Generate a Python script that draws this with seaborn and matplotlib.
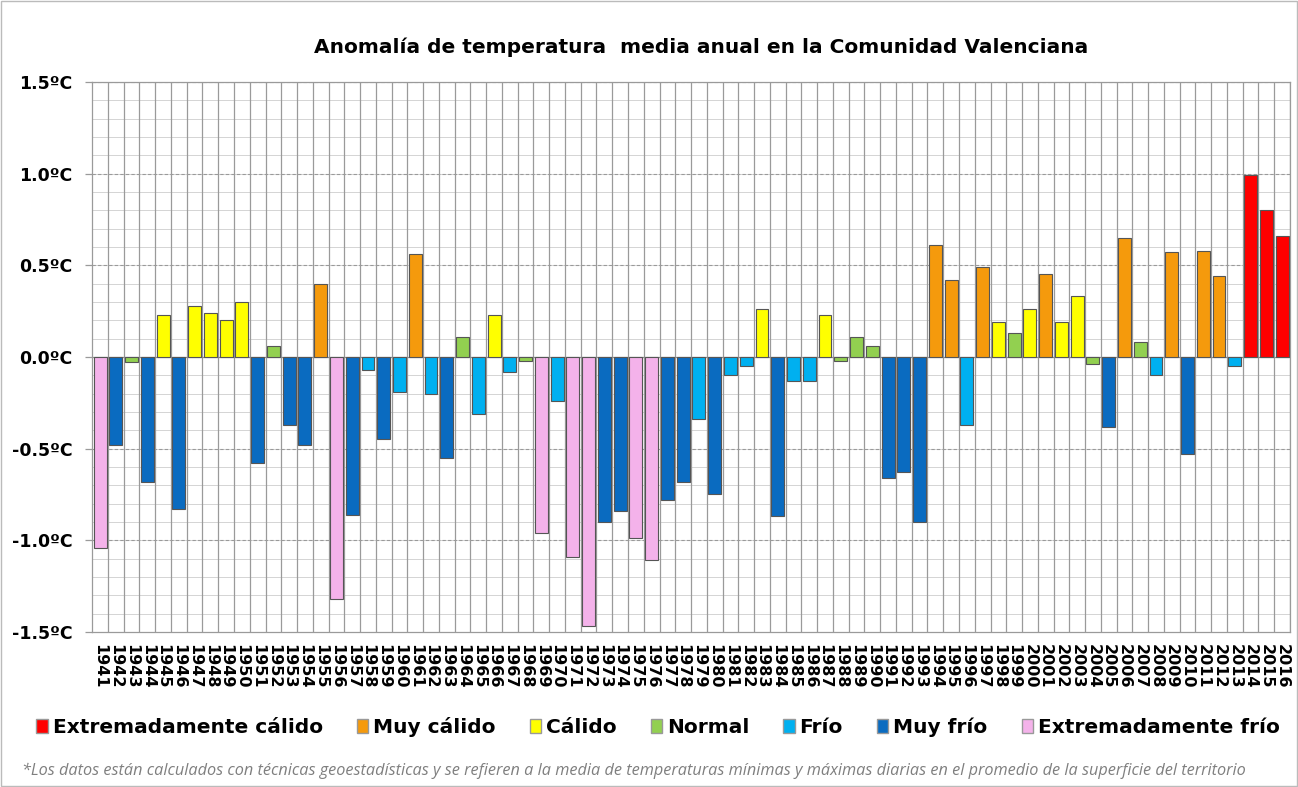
import matplotlib
matplotlib.use("Agg")
import matplotlib.pyplot as plt
from matplotlib.patches import Patch, Rectangle
import numpy as np
import pandas as pd
import seaborn as sns

# anomaly per year (ºC)
years = list(range(1941, 2017))
anomalies = [
    -1.04, -0.48, -0.03, -0.68, 0.23, -0.83, 0.28, 0.24, 0.20, 0.30,   # 1941-1950
    -0.58, 0.06, -0.37, -0.48, 0.40, -1.32, -0.86, -0.07, -0.45, -0.19,  # 1951-1960
    0.56, -0.20, -0.55, 0.11, -0.31, 0.23, -0.08, -0.02, -0.96, -0.24,  # 1961-1970
    -1.09, -1.47, -0.90, -0.84, -0.99, -1.11, -0.78, -0.68, -0.34, -0.75,  # 1971-1980
    -0.10, -0.05, 0.26, -0.87, -0.13, -0.13, 0.23, -0.02, 0.11, 0.06,   # 1981-1990
    -0.66, -0.63, -0.90, 0.61, 0.42, -0.37, 0.49, 0.19, 0.13, 0.26,    # 1991-2000
    0.45, 0.19, 0.33, -0.04, -0.38, 0.65, 0.08, -0.10, 0.57, -0.53,    # 2001-2010
    0.58, 0.44, -0.05, 0.99, 0.80, 0.66,                               # 2011-2016
]

EC, MC, C, N, F, MF, EF = ("Extremadamente cálido", "Muy cálido", "Cálido", "Normal",
                           "Frío", "Muy frío", "Extremadamente frío")
categorias = [
    EF, MF, N, MF, C, MF, C, C, C, C,
    MF, N, MF, MF, MC, EF, MF, F, MF, F,
    MC, F, MF, N, F, C, F, N, EF, F,
    EF, EF, MF, MF, EF, EF, MF, MF, F, MF,
    F, F, C, MF, F, F, C, N, N, N,
    MF, MF, MF, MC, MC, F, MC, C, N, C,
    MC, C, C, N, MF, MC, N, F, MC, MF,
    MC, MC, F, EC, EC, EC,
]
orden = [EC, MC, C, N, F, MF, EF]
colores = {EC: "#FF0000", MC: "#F59A0C", C: "#FFFF00", N: "#92D050",
           F: "#00B0F0", MF: "#0A6BC0", EF: "#F4B2EA"}

df = pd.DataFrame({"year": [str(y) for y in years], "anom": anomalies, "cat": categorias})

fig = plt.figure(figsize=(12.98, 7.87), dpi=100)
ax = fig.add_axes([0.071, 0.197, 0.9228, 0.699])

sns.barplot(data=df, x="year", y="anom", hue="cat", palette=colores, dodge=False,
            saturation=1, width=0.82, edgecolor="#555555", linewidth=0.8,
            legend=False, ax=ax, zorder=3)

ax.set_ylim(-1.5, 1.5)
ax.set_xlim(-0.5, len(years) - 0.5)

# grid: minor every 0.1, dashed major every 0.5, vertical lines between years
for v in np.arange(-1.4, 1.5, 0.1):
    ax.axhline(v, color="#d4d4d4", lw=0.7, zorder=0)
for v in [-1.0, -0.5, 0.5, 1.0, 1.5]:
    ax.axhline(v, color="#9a9a9a", lw=0.8, ls=(0, (3, 2)), zorder=1)
for i in range(len(years)):
    ax.axvline(i + 0.5, color="#9a9a9a", lw=0.9, zorder=1)
ax.axhline(0, color="#8a8a8a", lw=0.9, zorder=2)

ax.set_yticks([-1.5, -1.0, -0.5, 0.0, 0.5, 1.0, 1.5])
ax.set_yticklabels([f"{v:.1f}ºC" for v in [-1.5, -1.0, -0.5, 0.0, 0.5, 1.0, 1.5]],
                   fontsize=12.5, fontweight="bold")
ax.tick_params(axis="x", rotation=-90, labelsize=11.5, length=0, pad=9)
ax.tick_params(axis="y", length=5, color="#9a9a9a", width=0.9, pad=9)
for lab in ax.get_xticklabels():
    lab.set_fontweight("bold")
ax.set_xlabel("")
ax.set_ylabel("")
for s in ax.spines.values():
    s.set_color("#9a9a9a")
    s.set_linewidth(0.9)

fig.text(0.54, 0.94, "Anomalía de temperatura  media anual en la Comunidad Valenciana",
         ha="center", va="center", fontsize=14.5, fontweight="bold")

handles = [Patch(facecolor=colores[k], edgecolor="#999999", label=k) for k in orden]
fig.legend(handles=handles, loc="center", bbox_to_anchor=(0.507, 0.076), ncol=7, frameon=False,
           prop={"size": 14.5, "weight": "bold"}, handlelength=0.55, handleheight=0.7,
           handletextpad=0.25, columnspacing=1.7)

fig.text(0.017, 0.021,
         "*Los datos están calculados con técnicas geoestadísticas y se refieren a la media de "
         "temperaturas mínimas y máximas diarias en el promedio de la superficie del territorio",
         ha="left", va="center", fontsize=11.7, style="italic", color="#7f7f7f",
         family="Open Sans")

fig.patches.append(Rectangle((0.001, 0.001), 0.998, 0.998, transform=fig.transFigure,
                             fill=False, edgecolor="#bbbbbb", lw=1))

fig.savefig("out.png", dpi=100)
